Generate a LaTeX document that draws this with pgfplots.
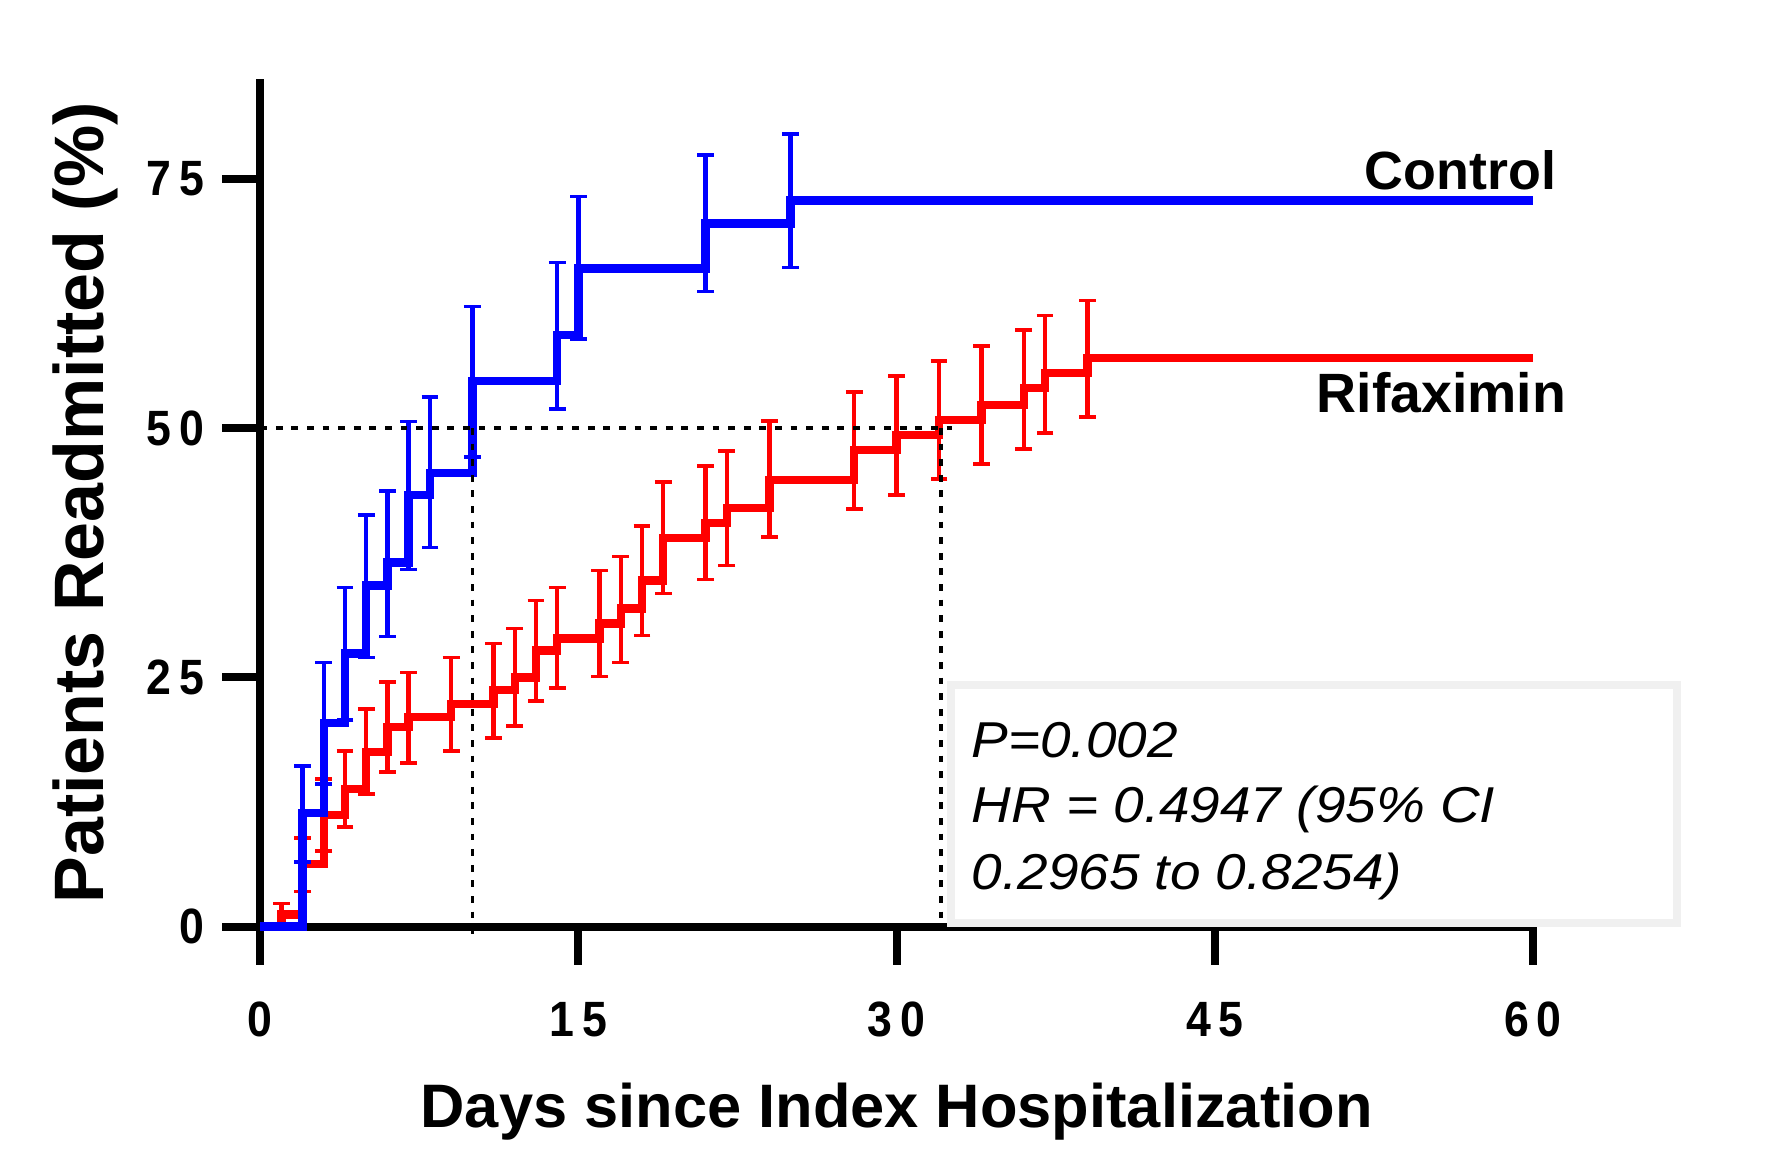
\documentclass[border=0pt]{standalone}
\usepackage{pgfplots}
\usepackage{pgfplotstable}
\usepackage{graphicx}
\pgfplotsset{compat=1.18}
\usepackage{fontspec}
\setmainfont{Liberation Sans}

\pgfplotstableread{
x y
0 0
2 11.4
3 20.4
4 27.4
5 34.2
6 36.5
7 43.3
8 45.5
10 54.7
14 59.3
15 66.0
21 70.5
25 72.8
60 72.8
}\ctrlline

\pgfplotstableread{
x y ep em
2 11.4 4.7 4.9
3 20.4 6.1 6.1
4 27.4 6.6 6.7
5 34.2 7.1 7.2
6 36.5 7.2 7.4
7 43.3 7.35 7.5
8 45.5 7.6 7.5
10 54.7 7.5 7.6
14 59.3 7.3 7.4
15 66.0 7.2 7.1
21 70.5 6.9 6.8
25 72.8 6.7 6.7
}\ctrlerr

\pgfplotstableread{
x y
0 0
1 1.2
2 6.3
3 11.2
4 13.8
5 17.5
6 20.0
7 21.0
9 22.3
11 23.7
12 25.0
13 27.7
14 28.9
16 30.4
17 31.9
18 34.7
19 39.0
21 40.5
22 42.0
24 44.8
28 47.8
30 49.3
32 50.8
34 52.3
36 54.0
37 55.5
39 57.0
60 57.0
}\rifline

\pgfplotstableread{
x y ep em
1 1.2 1.1 1.2
2 6.3 2.6 2.8
3 11.2 3.6 3.6
4 13.8 3.8 3.8
5 17.5 4.3 4.2
6 20.0 4.5 4.5
7 21.0 4.5 4.6
9 22.3 4.7 4.7
11 23.7 4.7 4.8
12 25.0 4.9 4.9
13 27.7 5.0 5.1
14 28.9 5.1 5.0
16 30.4 5.3 5.3
17 31.9 5.2 5.4
18 34.7 5.5 5.5
19 39.0 5.6 5.6
21 40.5 5.7 5.7
22 42.0 5.7 5.8
24 44.8 5.9 5.7
28 47.8 5.8 5.9
30 49.3 5.9 6.0
32 50.8 5.9 5.9
34 52.3 5.9 5.9
36 54.0 5.8 6.1
37 55.5 5.8 6.0
39 57.0 5.8 5.9
}\riferr

\newcommand{\tl}[1]{\scalebox{0.9}[1]{#1}}
\newcommand{\ann}[1]{\scalebox{1.09}[1]{#1}}

\begin{document}
\begin{tikzpicture}
\begin{axis}[
  scale only axis,
  width=318.2pt, height=211.9pt,
  xmin=0, xmax=60, ymin=0, ymax=85,
  clip=false,
  axis lines*=left,
  axis line style={line width=2pt, black, -},
  tick style={line width=2pt, black},
  tick align=outside,
  major tick length=9.5pt,
  xtick={0,15,30,45,60},
  xticklabels={\tl{0},\tl{1\kern2.2pt 5},\tl{3\kern2.2pt 0},\tl{4\kern2.2pt 5},\tl{6\kern2.2pt 0}},
  ytick={0,25,50,75},
  yticklabels={\tl{0},\tl{2\kern2.2pt 5},\tl{5\kern2.2pt 0},\tl{7\kern2.2pt 5}},
  tick label style={font=\fontsize{12.4}{12.4}\selectfont\bfseries},
  xticklabel style={anchor=base, inner sep=0pt, yshift=-17.9pt},
  yticklabel style={anchor=east, inner sep=0pt, xshift=-4.3pt},
  xlabel={Days since Index Hospitalization},
  ylabel={Patients Readmitted (\%)},
  xlabel style={at={(axis description cs:0.5,-0.2375)}, anchor=base, font=\fontsize{15.35}{15.35}\selectfont\bfseries, inner sep=0pt},
  ylabel style={at={(axis description cs:-0.1232,0.5)}, anchor=base, font=\fontsize{17.5}{17.5}\selectfont\bfseries, inner sep=0pt},
]
\coordinate (O) at (axis cs:0,0);

% annotation box
\draw[draw=black!6, line width=2pt, fill=white] (axis cs:32.57,0.4) rectangle (axis cs:66.8,24.2);
\node[anchor=base west, inner sep=0pt, font=\fontsize{12.6}{12.6}\selectfont\itshape] at (axis cs:33.5,17.0) {\ann{P=0.002}};
\node[anchor=base west, inner sep=0pt, font=\fontsize{12.6}{12.6}\selectfont\itshape] at (axis cs:33.5,10.4) {\ann{HR = 0.4947 (95\% CI}};
\node[anchor=base west, inner sep=0pt, font=\fontsize{12.6}{12.6}\selectfont\itshape] at (axis cs:33.5,3.7) {\ann{0.2965 to 0.8254)}};

% rifaximin
\addplot[red, line width=2.1pt, const plot, mark=none] table[x=x,y=y] {\rifline};
\addplot[draw=none, mark=none, forget plot,
  error bars/.cd, y dir=both, y explicit,
  error bar style={line width=1.1pt, red, solid},
  error mark=-, error mark options={rotate=90, line width=0.9pt, mark size=2.1pt, red}]
  table[x=x, y=y, y error plus=ep, y error minus=em] {\riferr};

% control
\addplot[blue, line width=2.1pt, const plot, mark=none] table[x=x,y=y] {\ctrlline};
\addplot[draw=none, mark=none, forget plot,
  error bars/.cd, y dir=both, y explicit,
  error bar style={line width=1.1pt, blue, solid},
  error mark=-, error mark options={rotate=90, line width=0.9pt, mark size=2.1pt, blue}]
  table[x=x, y=y, y error plus=ep, y error minus=em] {\ctrlerr};

% median lines
\addplot[black, line width=0.9pt, dash pattern=on 1.7pt off 2.2pt, mark=none] coordinates {(0,50) (32.6,50)};
\addplot[black, line width=0.9pt, dash pattern=on 1.7pt off 2.2pt, mark=none] coordinates {(10,50) (10,-1.5)};
\addplot[black, line width=0.9pt, dash pattern=on 1.7pt off 2.2pt, mark=none] coordinates {(32.1,50) (32.1,0)};

% curve labels
\node[anchor=base east, inner sep=0pt, font=\fontsize{13.45}{13.45}\selectfont\bfseries] at (axis cs:61.13,73.9) {Control};
\node[anchor=base east, inner sep=0pt, font=\fontsize{13.85}{13.85}\selectfont\bfseries] at (axis cs:61.6,51.6) {Rifaximin};
\end{axis}
\pgfresetboundingbox
\path (O) ++(-65.05pt,-56.1pt) rectangle ++(443.5pt,287.75pt);
\end{tikzpicture}
\end{document}
